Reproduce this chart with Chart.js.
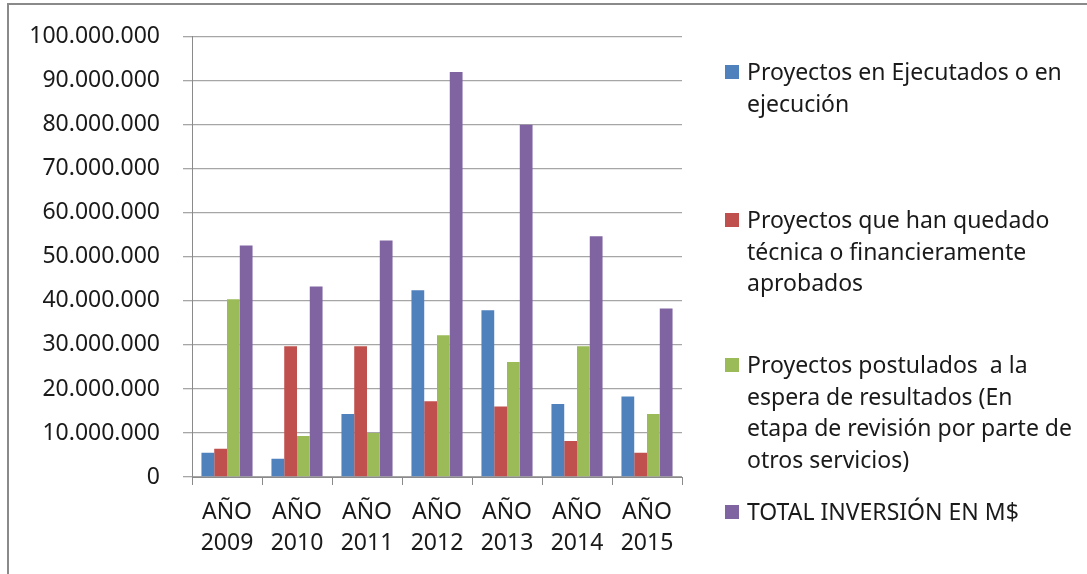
<!DOCTYPE html>
<html><head><meta charset="utf-8">
<script src="https://cdn.jsdelivr.net/npm/chart.js@4"></script>
<style>
html,body{margin:0;padding:0;background:#fff;}
#wrap{position:relative;width:1087px;height:574px;overflow:hidden;background:#fff;}
#frame{position:absolute;left:7px;top:3px;width:1200px;height:700px;border-left:2px solid #8a8a8a;border-top:2px solid #8a8a8a;}
#c{position:absolute;left:0;top:0;}
#legend{position:absolute;left:0;top:0;}
.leg{position:absolute;left:725px;font-family:"Noto Sans";font-size:23px;line-height:31.5px;color:#1a1a1a;}
.leg .sw{position:absolute;left:0;top:9px;width:14px;height:14px;}
.leg .tx{position:absolute;left:22px;top:0;white-space:pre;}
</style>
</head><body>
<div id="wrap">
<div id="frame"></div>
<canvas id="c" width="1087" height="574"></canvas>
<div id="legend"></div>
</div>
<script>
const categories = [['AÑO','2009'],['AÑO','2010'],['AÑO','2011'],['AÑO','2012'],['AÑO','2013'],['AÑO','2014'],['AÑO','2015']];
const seriesNames = [
  ['Proyectos en Ejecutados o en','ejecución'],
  ['Proyectos que han quedado','técnica o financieramente','aprobados'],
  ['Proyectos postulados  a la','espera de resultados (En','etapa de revisión por parte de','otros servicios)'],
  ['TOTAL INVERSIÓN EN M$']
];
const ejecutados = [5500000, 4150000, 14300000, 42400000, 37900000, 16600000, 18300000];
const aprobados  = [6400000, 29700000, 29700000, 17200000, 16000000, 8200000, 5500000];
const postulados = [40400000, 9300000, 10000000, 32200000, 26100000, 29700000, 14300000];
const totalInversion = [52600000, 43300000, 53700000, 92000000, 80000000, 54700000, 38300000];
const yTicks = [0,10000000,20000000,30000000,40000000,50000000,60000000,70000000,80000000,90000000,100000000];
const colors = ['#4F81BD','#C0504D','#9BBB59','#8064A2'];
const legendTops = [56, 204, 349, 496];

function fmt(v){ return String(Math.round(v)).replace(/\B(?=(\d{3})+(?!\d))/g,'.'); }

const seriesData = [ejecutados, aprobados, postulados, totalInversion];
const datasets = seriesData.map((d,i)=>({
  label: seriesNames[i].join(' '),
  data: d,
  backgroundColor: colors[i],
  borderWidth: 0,
  categoryPercentage: 0.73,
  barPercentage: 1.0
}));

const tickFont = {family:'"Noto Sans"', size:23};
new Chart(document.getElementById('c'), {
  type:'bar',
  data:{labels:categories, datasets},
  options:{
    responsive:false, animation:false,
    layout:{padding:{top:30, right:405, left:0, bottom:0}},
    plugins:{legend:{display:false}, tooltip:{enabled:false}},
    scales:{
      x:{
        grid:{display:true, drawOnChartArea:false, offset:true, tickLength:8, color:'#8a8a8a', lineWidth:1},
        border:{color:'#8a8a8a', width:1},
        ticks:{font:{...tickFont, lineHeight:1.36}, color:'#1a1a1a', padding:12, maxRotation:0, autoSkip:false},
        afterFit:(s)=>{ s.height = 574 - 477; }
      },
      y:{
        min:0, max:100000000,
        afterBuildTicks:(s)=>{ s.ticks = yTicks.map(v=>({value:v})); },
        grid:{color:'#a6a6a6', lineWidth:1.3, tickLength:9},
        border:{color:'#8a8a8a', width:1},
        ticks:{font:tickFont, color:'#1a1a1a', padding:23, callback:(v)=>fmt(v)},
        afterFit:(s)=>{ s.width = 192; }
      }
    }
  }
});

const leg = document.getElementById('legend');
seriesNames.forEach((lines,i)=>{
  const d = document.createElement('div');
  d.className='leg'; d.style.top = legendTops[i]+'px';
  const sw = document.createElement('div'); sw.className='sw'; sw.style.background=colors[i];
  const tx = document.createElement('div'); tx.className='tx';
  lines.forEach((l,k)=>{ if(k) tx.appendChild(document.createElement('br')); tx.appendChild(document.createTextNode(l)); });
  d.appendChild(sw); d.appendChild(tx); leg.appendChild(d);
});
</script>
</body></html>
